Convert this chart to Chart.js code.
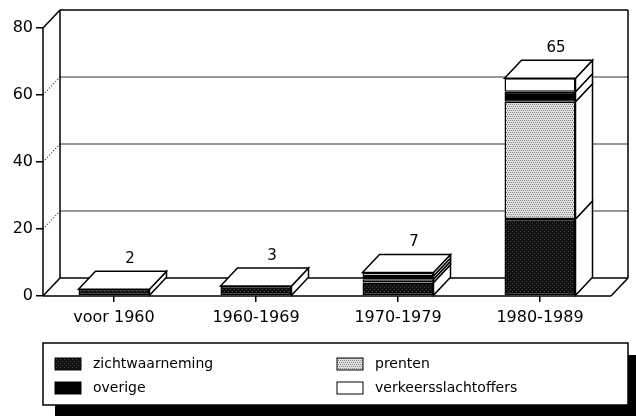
<!DOCTYPE html>
<html>
<head>
<meta charset="utf-8">
<script src="https://cdn.jsdelivr.net/npm/chart.js@4.4.1/dist/chart.umd.min.js"></script>
<style>
html, body { margin: 0; padding: 0; background: #fff; }
#wrap { width: 636px; height: 416px; }
</style>
</head>
<body>
<div id="wrap"><canvas id="barChart" width="636" height="416"></canvas></div>
<script>
const categories = ['voor 1960', '1960-1969', '1970-1979', '1980-1989'];
const zichtwaarneming = [2, 3, 4, 23];
const prenten = [0, 0, 1, 35];
const overige = [0, 0, 1, 3];
const verkeersslachtoffers = [0, 0, 1, 4];
const totalLabels = ['2', '3', '7', '65'];
const yTicks = [0, 20, 40, 60, 80];

const FONT = 'DejaVu Sans';
const DX = 17, DY = 18;

window.onload = function () {
	const canvas = document.getElementById('barChart');
	const ctx = canvas.getContext('2d');

	function makePattern(kind) {
		const c = document.createElement('canvas');
		c.width = 4; c.height = 4;
		const g = c.getContext('2d');
		if (kind === 'dark') {
			g.fillStyle = '#101010';
			g.fillRect(0, 0, 4, 4);
			g.fillStyle = '#4a4a4a';
			g.fillRect(0, 3, 1, 1);
			g.fillRect(2, 1, 1, 1);
		} else {
			g.fillStyle = '#dedede';
			g.fillRect(0, 0, 4, 4);
			g.fillStyle = '#8a8a8a';
			g.fillRect(0, 0, 1, 1);
			g.fillRect(2, 0, 1, 1);
			g.fillRect(1, 2, 1, 1);
			g.fillRect(3, 2, 1, 1);
		}
		return ctx.createPattern(c, 'repeat');
	}

	const darkFill = makePattern('dark');
	const dotFill = makePattern('dots');

	function line(g, x1, y1, x2, y2) {
		g.beginPath();
		g.moveTo(x1, y1);
		g.lineTo(x2, y2);
		g.stroke();
	}

	function poly(g, pts) {
		g.beginPath();
		g.moveTo(pts[0][0], pts[0][1]);
		for (let k = 1; k < pts.length; k++) g.lineTo(pts[k][0], pts[k][1]);
		g.closePath();
		g.fillStyle = '#fff';
		g.fill();
		g.stroke();
	}

	const frame3d = {
		id: 'frame3d',
		beforeDatasetsDraw(chart) {
			const g = chart.ctx;
			const a = chart.chartArea;
			const y = chart.scales.y;
			g.save();
			// back wall grid lines + dotted side connectors
			yTicks.forEach(function (v) {
				if (v === 0 || v === 80) return;
				const py = y.getPixelForValue(v);
				g.strokeStyle = '#333';
				g.lineWidth = 1.2;
				g.setLineDash([]);
				line(g, a.left + DX, py - DY, a.right + DX, py - DY);
				g.setLineDash([1, 2]);
				line(g, a.left, py, a.left + DX, py - DY);
			});
			g.setLineDash([]);
			g.strokeStyle = '#000';
			g.lineWidth = 1.5;
			line(g, a.left, a.bottom, a.left, a.top);
			line(g, a.left, a.top, a.left + DX, a.top - DY);
			line(g, a.left + DX, a.top - DY, a.right + DX, a.top - DY);
			line(g, a.right + DX, a.top - DY, a.right + DX, a.bottom - DY);
			line(g, a.left + DX, a.top - DY, a.left + DX, a.bottom - DY);
			line(g, a.left + DX, a.bottom - DY, a.right + DX, a.bottom - DY);
			line(g, a.left, a.bottom, a.left + DX, a.bottom - DY);
			line(g, a.right, a.bottom, a.right + DX, a.bottom - DY);
			line(g, a.left, a.bottom, a.right, a.bottom);
			g.restore();
		},
		afterDatasetsDraw(chart) {
			const g = chart.ctx;
			g.save();
			g.strokeStyle = '#000';
			g.lineWidth = 1.5;
			categories.forEach(function (cat, i) {
				let topEl = null;
				chart.data.datasets.forEach(function (ds, d) {
					if (!ds.data[i]) return;
					const el = chart.getDatasetMeta(d).data[i];
					const p = el.getProps(['x', 'y', 'base', 'width'], true);
					const right = p.x + p.width / 2;
					poly(g, [[right, p.y], [right + DX, p.y - DY], [right + DX, p.base - DY], [right, p.base]]);
					topEl = p;
				});
				if (topEl) {
					const l = topEl.x - topEl.width / 2, r = topEl.x + topEl.width / 2;
					poly(g, [[l, topEl.y], [l + DX, topEl.y - DY], [r + DX, topEl.y - DY], [r, topEl.y]]);
					g.fillStyle = '#000';
					g.font = '15px "' + FONT + '"';
					g.textAlign = 'center';
					g.textBaseline = 'middle';
					g.fillText(totalLabels[i], topEl.x + 16, topEl.y - 30);
				}
			});
			g.restore();
		},
		afterDraw(chart) {
			const g = chart.ctx;
			g.save();
			// legend box with shadow
			g.fillStyle = '#000';
			g.fillRect(55, 355, 581, 61);
			g.fillStyle = '#fff';
			g.fillRect(43, 343, 585, 62);
			g.strokeStyle = '#000';
			g.lineWidth = 1.5;
			g.strokeRect(43, 343, 585, 62);
			const items = [
				{ ds: 0, x: 55, y: 364 },
				{ ds: 1, x: 337, y: 364 },
				{ ds: 2, x: 55, y: 388 },
				{ ds: 3, x: 337, y: 388 }
			];
			g.font = '14px "' + FONT + '"';
			g.textAlign = 'left';
			g.textBaseline = 'middle';
			items.forEach(function (it) {
				const ds = chart.data.datasets[it.ds];
				g.fillStyle = ds.backgroundColor;
				g.fillRect(it.x, it.y - 6, 26, 12);
				g.lineWidth = 1;
				g.strokeRect(it.x, it.y - 6, 26, 12);
				g.fillStyle = '#000';
				g.fillText(ds.label, it.x + 38, it.y);
			});
			g.restore();
		}
	};

	const barData = {
		labels: categories,
		datasets: [
			{ label: 'zichtwaarneming', data: zichtwaarneming, backgroundColor: darkFill },
			{ label: 'prenten', data: prenten, backgroundColor: dotFill },
			{ label: 'overige', data: overige, backgroundColor: '#000' },
			{ label: 'verkeersslachtoffers', data: verkeersslachtoffers, backgroundColor: '#fff' }
		].map(function (ds) {
			return Object.assign(ds, {
				borderColor: '#000',
				borderWidth: 1.5,
				borderSkipped: false,
				barPercentage: 0.5,
				categoryPercentage: 1.0,
				stack: 'all'
			});
		})
	};

	new Chart(canvas, {
		type: 'bar',
		data: barData,
		plugins: [frame3d],
		options: {
			responsive: false,
			animation: false,
			layout: { padding: { top: 28, right: 25, left: 0, bottom: 0 } },
			plugins: {
				legend: { display: false },
				tooltip: { enabled: false }
			},
			scales: {
				x: {
					stacked: true,
					grid: { offset: false, drawOnChartArea: false, drawTicks: true, tickLength: 6, color: '#000', lineWidth: 1.5 },
					border: { display: false },
					ticks: { color: '#000', font: { family: FONT, size: 16 }, padding: 6, maxRotation: 0 },
					afterFit: function (s) { s.height = 120; }
				},
				y: {
					stacked: true,
					min: 0,
					max: 80,
					ticks: { stepSize: 20, color: '#000', font: { family: FONT, size: 16 }, padding: 3 },
					grid: { drawOnChartArea: false, tickLength: 7, color: '#000', lineWidth: 1.5 },
					border: { display: false },
					afterFit: function (s) { s.width = 43; }
				}
			}
		}
	});
};
</script>
</body>
</html>
